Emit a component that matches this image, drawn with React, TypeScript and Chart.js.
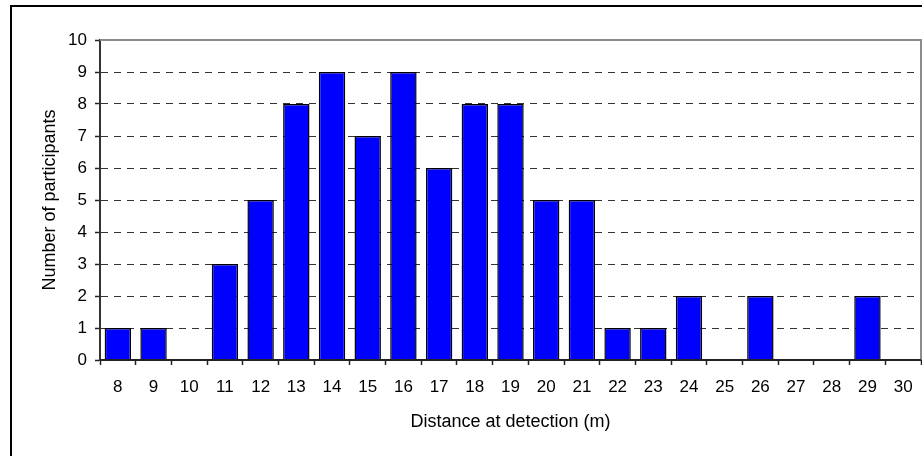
import React, { useEffect, useRef } from "react";
import { Chart, registerables } from "chart.js";

Chart.register(...registerables);

const categories = ["8","9","10","11","12","13","14","15","16","17","18","19","20","21","22","23","24","25","26","27","28","29","30"];
const participants = [1,1,0,3,5,8,9,7,9,6,8,8,5,5,1,1,2,0,2,0,0,2,0];
const yTitle = "Number of participants";
const xTitle = "Distance at detection (m)";

const FONT = "'Liberation Sans', Arial, sans-serif";

const framePlugin = {
  id: "frame",
  afterDraw(chart: any) {
    const { ctx, chartArea } = chart;
    ctx.save();
    ctx.setLineDash([]);
    // plot area top & right border
    ctx.strokeStyle = "#8c8c8c";
    ctx.lineWidth = 2;
    ctx.beginPath();
    ctx.moveTo(chartArea.left, chartArea.top);
    ctx.lineTo(chartArea.right, chartArea.top);
    ctx.lineTo(chartArea.right, chartArea.bottom);
    ctx.stroke();
    // x axis line redrawn on top of zero-height bars
    ctx.strokeStyle = "#222";
    ctx.beginPath();
    ctx.moveTo(chartArea.left, chartArea.bottom);
    ctx.lineTo(chartArea.right, chartArea.bottom);
    ctx.stroke();
    // outer chart border
    ctx.fillStyle = "#000";
    ctx.fillRect(10, 5, 2, chart.height);
    ctx.fillRect(10, 5, chart.width, 2);
    ctx.restore();
  },
};

export default function App() {
  const ref = useRef<HTMLCanvasElement>(null);
  useEffect(() => {
    if (!ref.current) return;
    const chart = new Chart(ref.current, {
      type: "bar",
      data: {
        labels: categories,
        datasets: [
          {
            data: participants,
            backgroundColor: "#0000ff",
            borderColor: "#000000",
            borderWidth: 1.5,
            barPercentage: 0.74,
            categoryPercentage: 1,
          },
        ],
      },
      options: {
        animation: false,
        responsive: true,
        maintainAspectRatio: false,
        layout: { padding: { left: 0, top: 40, right: 1, bottom: 0 } },
        plugins: { legend: { display: false }, tooltip: { enabled: false } },
        scales: {
          x: {
            offset: true,
            afterFit: (s: any) => { s.height = 96; s.paddingLeft = 0; s.paddingRight = 0; },
            border: { display: true, color: "#222", width: 2 },
            grid: {
              display: true,
              offset: true,
              drawOnChartArea: false,
              drawTicks: true,
              tickLength: 5,
              tickColor: "#222",
              tickWidth: 1.5,
            },
            ticks: {
              color: "#000",
              padding: 12,
              maxRotation: 0,
              autoSkip: false,
              font: { family: FONT, size: 17 },
            },
            title: {
              display: true,
              text: xTitle,
              color: "#000",
              font: { family: FONT, size: 18 },
              padding: { top: 0, bottom: 23 },
            },
          },
          y: {
            min: 0,
            max: 10,
            afterFit: (s: any) => { s.width = 100; s.paddingTop = 0; s.paddingBottom = 0; },
            border: { display: true, color: "#333", width: 2, dash: [7, 6] },
            grid: {
              color: "#333",
              lineWidth: 1,
              drawTicks: true,
              tickLength: 5,
              tickColor: "#222",
              tickWidth: 1.5,
              tickBorderDash: [],
            },
            ticks: {
              stepSize: 1,
              color: "#000",
              padding: 8,
              font: { family: FONT, size: 17 },
            },
            title: {
              display: true,
              text: yTitle,
              color: "#000",
              font: { family: FONT, size: 18 },
              padding: { top: 39, bottom: 0 },
            },
          },
        },
      },
      plugins: [framePlugin],
    });
    return () => chart.destroy();
  }, []);
  return (
    <div style={{ position: "fixed", left: 0, top: 0, width: 922, height: 456, background: "#fff" }}>
      <canvas ref={ref} />
    </div>
  );
}
